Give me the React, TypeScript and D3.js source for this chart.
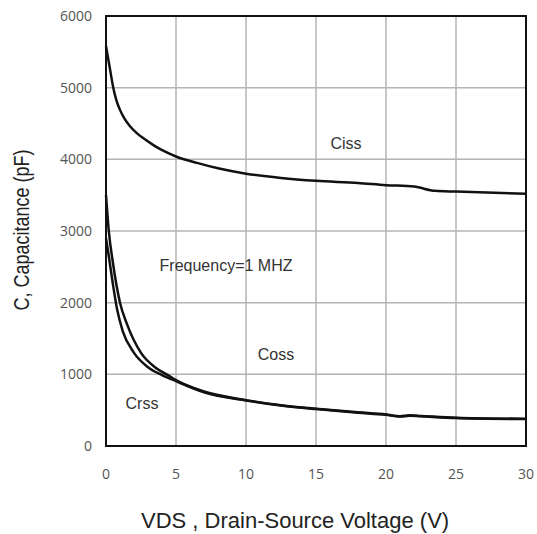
import React from "react";
import * as d3 from "d3";

const xTicks = [0, 5, 10, 15, 20, 25, 30];
const yTicks = [0, 1000, 2000, 3000, 4000, 5000, 6000];

const cissV = [0, 0.25, 0.52, 0.75, 1, 1.3, 1.7, 2.2, 2.7, 3.5, 4.3, 5, 6.5, 8, 10, 12.5, 15, 18, 20, 22, 23.5, 25, 30];
const cissC = [5580, 5300, 5000, 4820, 4690, 4575, 4465, 4365, 4290, 4185, 4100, 4040, 3950, 3875, 3800, 3740, 3700, 3670, 3640, 3620, 3560, 3550, 3520];

const cossV = [0, 0.2, 0.5, 1, 1.5, 2.5, 3.5, 4.5, 5, 7, 10, 12.5, 15, 18, 20, 21, 21.7, 22.5, 25, 30];
const cossC = [3500, 3000, 2550, 2000, 1700, 1300, 1100, 980, 920, 760, 640, 570, 520, 470, 440, 415, 428, 420, 395, 380];

const crssV = [0, 0.2, 0.5, 0.8, 1.2, 2, 3, 4, 5, 7, 10, 12.5, 15, 18, 20, 21, 21.7, 22.5, 25, 30];
const crssC = [2900, 2650, 2250, 1900, 1600, 1300, 1100, 990, 905, 750, 635, 565, 515, 465, 435, 410, 423, 415, 390, 375];

const W = 537, H = 534;
const ml = 106, mr = 526, mt = 16, mb = 446;

export default function App() {
  const x = d3.scaleLinear().domain([0, 30]).range([ml, mr]);
  const y = d3.scaleLinear().domain([0, 6000]).range([mb, mt]);
  const line = d3
    .line<[number, number]>()
    .x((d) => x(d[0]))
    .y((d) => y(d[1]))
    .curve(d3.curveMonotoneX);
  const mk = (vs: number[], cs: number[]) => line(vs.map((v, i) => [v, cs[i]] as [number, number])) || "";
  const labelFont = "'Liberation Sans', Arial, sans-serif";
  const tickFont = "'Open Sans', 'DejaVu Sans', sans-serif";
  return (
    <svg width={W} height={H} style={{ position: "absolute", left: 0, top: 0, background: "#fff" }}>
      <rect x={0} y={0} width={W} height={H} fill="#fff" />
      {xTicks.slice(1, -1).map((t) => (
        <line key={"gx" + t} x1={x(t)} x2={x(t)} y1={mt} y2={mb} stroke="#b4b4b4" strokeWidth={1.5} />
      ))}
      {yTicks.slice(1, -1).map((t) => (
        <line key={"gy" + t} x1={ml} x2={mr} y1={y(t)} y2={y(t)} stroke="#b4b4b4" strokeWidth={1.5} />
      ))}
      <rect x={ml} y={mt} width={mr - ml} height={mb - mt} fill="none" stroke="#111" strokeWidth={2} />
      <path d={mk(cissV, cissC)} fill="none" stroke="#111" strokeWidth={2.5} />
      <path d={mk(cossV, cossC)} fill="none" stroke="#111" strokeWidth={2.5} />
      <path d={mk(crssV, crssC)} fill="none" stroke="#111" strokeWidth={2.5} />
      {yTicks.map((t) => (
        <text key={"ty" + t} x={92} y={y(t)} dy="0.35em" textAnchor="end" fontFamily={tickFont} fontSize={14} fill="#555">
          {t}
        </text>
      ))}
      {xTicks.map((t) => (
        <text key={"tx" + t} x={x(t)} y={474} dy="0.35em" textAnchor="middle" fontFamily={tickFont} fontSize={14} fill="#555">
          {t}
        </text>
      ))}
      <text x={346} y={143} dy="0.35em" textAnchor="middle" fontFamily={labelFont} fontSize={16} fill="#333">Ciss</text>
      <text x={226} y={265} dy="0.35em" textAnchor="middle" fontFamily={labelFont} fontSize={16} fill="#333">Frequency=1 MHZ</text>
      <text x={276} y={354} dy="0.35em" textAnchor="middle" fontFamily={labelFont} fontSize={16} fill="#333">Coss</text>
      <text x={142} y={403} dy="0.35em" textAnchor="middle" fontFamily={labelFont} fontSize={16} fill="#333">Crss</text>
      <text x={141} y={520} dy="0.35em" textAnchor="start" fontFamily={labelFont} fontSize={22} fill="#222">VDS , Drain-Source Voltage (V)</text>
      <text transform={`translate(21,230) scale(1.2,1) rotate(-90)`} dy="0.35em" textAnchor="middle" fontFamily={labelFont} fontSize={18} fill="#222">C, Capacitance (pF)</text>
    </svg>
  );
}
